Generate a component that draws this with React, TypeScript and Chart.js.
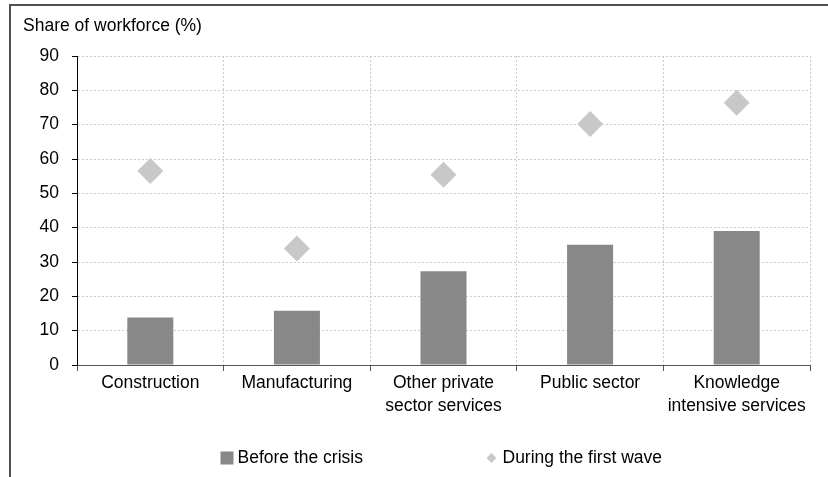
import React, { useEffect, useRef } from "react";
import { Chart, registerables } from "chart.js";
Chart.register(...registerables);

const categories: string[][] = [
  ["Construction"],
  ["Manufacturing"],
  ["Other private", "sector services"],
  ["Public sector"],
  ["Knowledge", "intensive services"],
];
const beforeCrisis = [13.8, 15.8, 27.3, 35.0, 39.0];
const firstWave = [56.5, 33.9, 55.4, 70.2, 76.4];
const seriesNames = ["Before the crisis", "During the first wave"];
const axisTitle = "Share of workforce (%)";
const yMin = 0;
const yMax = 90;
const yStep = 10;

const FONT = "'Liberation Sans', Arial, sans-serif";
const FONT_SIZE = 17.5;
const BAR_COLOR = "#888888";
const DIAMOND_COLOR = "#c8c8c8";
const GRID_COLOR = "#cccccc";

const overlayPlugin = {
  id: "overlay",
  afterDraw(chart: any) {
    const { ctx, chartArea } = chart;
    ctx.save();
    ctx.fillStyle = "#000";
    ctx.font = `${FONT_SIZE}px ${FONT}`;
    ctx.textBaseline = "middle";
    ctx.textAlign = "left";
    ctx.fillText(axisTitle, 23, 26);

    const cx = (chartArea.left + chartArea.right) / 2;
    const ly = 458;
    // item 1: square
    const x1 = cx - 223;
    ctx.fillStyle = BAR_COLOR;
    ctx.fillRect(x1, ly - 6.5, 13, 13);
    ctx.fillStyle = "#000";
    ctx.fillText(seriesNames[0], x1 + 17, ly);
    // item 2: diamond
    const x2 = cx + 48;
    ctx.fillStyle = DIAMOND_COLOR;
    ctx.beginPath();
    ctx.moveTo(x2 - 5, ly);
    ctx.lineTo(x2, ly - 5);
    ctx.lineTo(x2 + 5, ly);
    ctx.lineTo(x2, ly + 5);
    ctx.closePath();
    ctx.fill();
    ctx.fillStyle = "#000";
    ctx.fillText(seriesNames[1], x2 + 11, ly);
    ctx.restore();
  },
};

export default function App() {
  const ref = useRef<HTMLCanvasElement | null>(null);
  useEffect(() => {
    if (!ref.current) return;
    const font = { family: FONT, size: FONT_SIZE, lineHeight: 1.29 };
    const chart = new Chart(ref.current, {
      type: "bar",
      data: {
        labels: categories,
        datasets: [
          {
            type: "bar",
            label: seriesNames[0],
            data: beforeCrisis,
            backgroundColor: BAR_COLOR,
            borderWidth: 0,
            categoryPercentage: 1,
            barPercentage: 0.314,
          } as any,
          {
            type: "line",
            label: seriesNames[1],
            data: firstWave,
            showLine: false,
            pointStyle: "rectRot",
            pointRadius: 13,
            pointHoverRadius: 13,
            backgroundColor: DIAMOND_COLOR,
            borderColor: DIAMOND_COLOR,
            pointBorderWidth: 0,
            borderWidth: 0,
          } as any,
        ],
      },
      options: {
        responsive: false,
        animation: false,
        events: [],
        layout: { padding: { left: 0, right: 18, top: 56, bottom: 0 } },
        plugins: { legend: { display: false }, tooltip: { enabled: false }, title: { display: false } },
        scales: {
          x: {
            offset: true,
            grid: {
              offset: true,
              color: GRID_COLOR,
              lineWidth: 1,
              tickLength: 6,
              tickColor: "#555",
              tickBorderDash: [],
            },
            border: { color: "#555", width: 1, dash: [2, 2] },
            ticks: { color: "#000", font, padding: 1, maxRotation: 0, autoSkip: false },
            afterFit: (s: any) => {
              s.height = 112;
            },
          },
          y: {
            min: yMin,
            max: yMax,
            ticks: { stepSize: yStep, color: "#000", font: { family: FONT, size: FONT_SIZE }, padding: 13 },
            grid: {
              color: GRID_COLOR,
              lineWidth: 1,
              tickLength: 5,
              tickColor: "#000",
              tickBorderDash: [],
            },
            border: { color: "#000", width: 1, dash: [2, 2] },
            afterFit: (s: any) => {
              s.width = 77;
            },
          },
        },
      } as any,
      plugins: [overlayPlugin],
    });
    return () => chart.destroy();
  }, []);

  return (
    <div style={{ position: "absolute", left: 0, top: 0, width: 828, height: 477, background: "#fff" }}>
      <canvas ref={ref} width={828} height={477} style={{ position: "absolute", left: 0, top: 0 }} />
      <div
        style={{
          position: "absolute",
          left: 9,
          top: 4,
          width: 819,
          height: 473,
          borderLeft: "2px solid #505050",
          borderTop: "2px solid #505050",
          boxSizing: "border-box",
          pointerEvents: "none",
        }}
      />
    </div>
  );
}
